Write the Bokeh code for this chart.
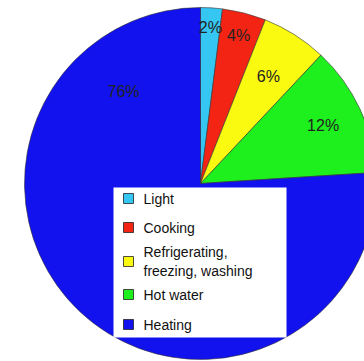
import math
from bokeh.plotting import figure
from bokeh.models import ColumnDataSource, Range1d
from bokeh.core.properties import value
from bokeh.embed import file_html
from bokeh.resources import INLINE

categories = ["Light", "Cooking", "Refrigerating,\nfreezing, washing", "Hot water", "Heating"]
shares = [2, 4, 6, 12, 76]
pct_labels = ["2%", "4%", "6%", "12%", "76%"]
colors = ["#35C6F2", "#F42414", "#FAFA10", "#1EF01E", "#1212EE"]

W, H = 364, 361
cx, cy, R = 200, 361 - 183, 176

p = figure(width=W, height=H, output_backend="svg", toolbar_location=None,
           x_range=Range1d(0, W), y_range=Range1d(0, H), min_border=0)
p.axis.visible = False
p.grid.visible = False
p.outline_line_color = None
p.background_fill_color = "white"
p.border_fill_color = "white"

total = float(sum(shares))
starts, ends, mids = [], [], []
cum = 0.0
for s in shares:
    a0 = math.pi / 2 - 2 * math.pi * cum / total
    cum += s
    a1 = math.pi / 2 - 2 * math.pi * cum / total
    starts.append(a0)
    ends.append(a1)
    mids.append((a0 + a1) / 2)

src = ColumnDataSource(dict(start=starts, end=ends, color=colors))
p.wedge(x=cx, y=cy, radius=R, start_angle="start", end_angle="end", direction="clock",
        fill_color="color", line_color="#333333", line_width=0.6, source=src)

# percentage labels (radius fraction per label; heating label placed in upper-left)
label_r = [0.89, 0.87, 0.72, 0.77, 0.68]
label_ang = list(mids)
label_ang[4] = math.radians(130)
lx = [cx + R * r * math.cos(a) for r, a in zip(label_r, label_ang)]
ly = [cy + R * r * math.sin(a) for r, a in zip(label_r, label_ang)]
p.text(x=lx, y=ly, text=pct_labels, text_align="center", text_baseline="middle",
       text_font=value("Liberation Sans"), text_font_size="16px", text_color="#222222")

# legend box
p.quad(left=113, right=286, bottom=H - 337, top=H - 187, fill_color="white", line_color=None)
row_y = [H - 198, H - 227, H - 261, H - 294, H - 324]
p.rect(x=[128] * 5, y=row_y, width=10, height=10, fill_color=colors,
       line_color="#222222", line_width=0.8)
p.text(x=[143] * 5, y=row_y, text=categories, text_align="left", text_baseline="middle",
       text_font=value("Liberation Sans"), text_font_size="14px", text_color="#111111",
       text_line_height=1.2)

open("out.html", "w").write(file_html(p, INLINE))
